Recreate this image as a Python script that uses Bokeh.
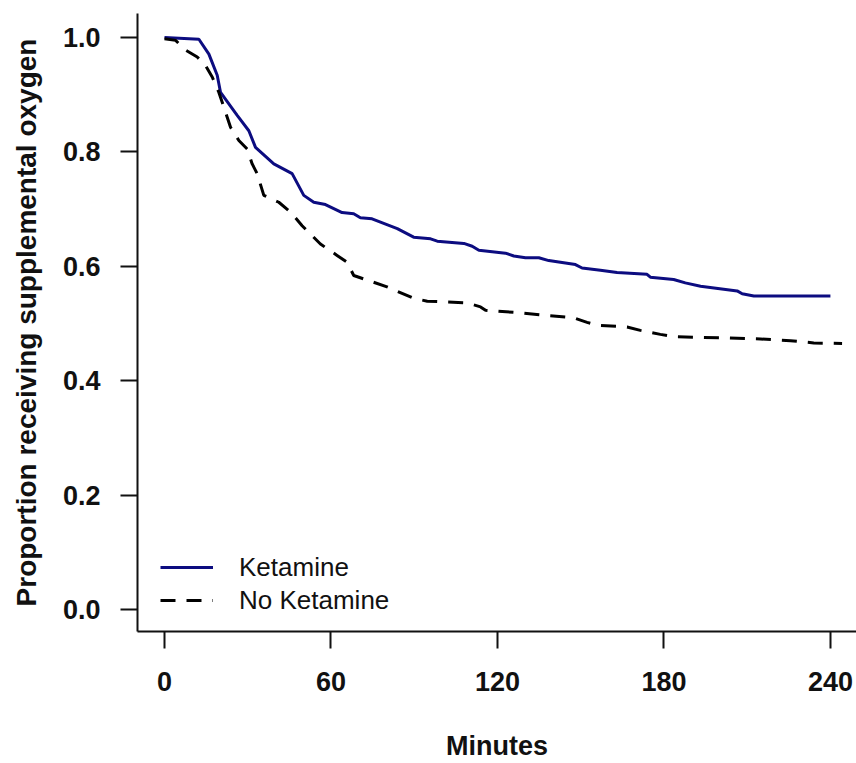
from bokeh.plotting import figure
from bokeh.models import Range1d, FixedTicker, Legend, LegendItem
from bokeh.embed import file_html
from bokeh.resources import INLINE

# Kaplan-Meier style curves
keta_min = [0, 12.4, 16, 19, 20.2, 26.2, 30.4, 32.8, 39.4, 46, 50.2, 53.8, 58, 64,
            68.2, 70.6, 74.8, 83.9, 89.8, 95.9, 98.3, 107.9, 110.9, 113.3, 122.9,
            125.9, 130.1, 134.9, 138.5, 148.1, 150.5, 157.1, 163.1, 173.9, 175.1,
            183.5, 187.7, 193.2, 206.4, 208.2, 212.4, 240]
keta_prop = [1.0, 0.997, 0.971, 0.934, 0.904, 0.864, 0.837, 0.808, 0.779, 0.762,
             0.724, 0.712, 0.708, 0.694, 0.692, 0.685, 0.683, 0.666, 0.651, 0.648,
             0.644, 0.640, 0.635, 0.628, 0.623, 0.618, 0.615, 0.615, 0.610, 0.603,
             0.597, 0.593, 0.589, 0.586, 0.581, 0.577, 0.571, 0.565, 0.557, 0.552,
             0.548, 0.548]

noket_min = [0, 4, 7.6, 11.8, 14.8, 17.2, 19.6, 21.4, 23.8, 26.8, 29.8, 31.6, 33.4,
             35.8, 41.2, 45.4, 49.6, 56.2, 62.2, 65.8, 68.2, 71.8, 80.2, 89.8, 94.7,
             109.1, 113.9, 115.7, 127.7, 137.9, 147.5, 152.3, 155.9, 166.7, 171.5,
             178.7, 183.5, 200.4, 214.8, 225.6, 234, 244.2]
noket_prop = [0.998, 0.995, 0.978, 0.966, 0.951, 0.931, 0.904, 0.878, 0.843, 0.820,
              0.805, 0.779, 0.762, 0.724, 0.712, 0.695, 0.671, 0.639, 0.619, 0.607,
              0.584, 0.578, 0.564, 0.544, 0.539, 0.536, 0.529, 0.523, 0.519, 0.514,
              0.510, 0.502, 0.497, 0.494, 0.488, 0.481, 0.477, 0.475, 0.473, 0.470,
              0.466, 0.465]

x_ticks = [0, 60, 120, 180, 240]
y_ticks = [0.0, 0.2, 0.4, 0.6, 0.8, 1.0]
y_tick_labels = ["0.0", "0.2", "0.4", "0.6", "0.8", "1.0"]
series_names = ["Ketamine", "No Ketamine"]

FONT = "Liberation Sans"

p = figure(width=856, height=763, output_backend="svg", toolbar_location=None,
           x_range=Range1d(-9.73, 249.4), y_range=Range1d(-0.0385, 1.042),
           min_border_left=137, min_border_top=13, min_border_bottom=132,
           min_border_right=0)
p.outline_line_color = None
p.xgrid.visible = False
p.ygrid.visible = False

r1 = p.line(keta_min, keta_prop, line_color="#0c0c80", line_width=3)
r2 = p.line(noket_min, noket_prop, line_color="black", line_width=3,
            line_dash="15 11")

for ax in (p.xaxis[0], p.yaxis[0]):
    ax.axis_line_width = 2
    ax.axis_line_color = "#111111"
    ax.major_tick_line_width = 2
    ax.major_tick_line_color = "#111111"
    ax.major_tick_out = 17
    ax.major_tick_in = 0
    ax.minor_tick_out = 0
    ax.minor_tick_in = 0
    ax.major_label_text_font = FONT
    ax.major_label_text_font_style = "bold"
    ax.major_label_text_font_size = "27px"
    ax.major_label_text_color = "#111111"
    ax.axis_label_text_font = FONT
    ax.axis_label_text_font_style = "bold"
    ax.axis_label_text_font_size = "27px"
    ax.axis_label_text_color = "#111111"

p.yaxis.axis_label_text_font_size = "28px"
p.xaxis.ticker = FixedTicker(ticks=x_ticks)
p.yaxis.ticker = FixedTicker(ticks=y_ticks)
p.yaxis.major_label_overrides = {t: s for t, s in zip(y_ticks, y_tick_labels)}
p.xaxis.major_label_standoff = 23
p.yaxis.major_label_standoff = 20
p.xaxis.axis_label = "Minutes"
p.yaxis.axis_label = "Proportion receiving supplemental oxygen"
p.xaxis.axis_label_standoff = 37
p.yaxis.axis_label_standoff = 18

legend = Legend(items=[LegendItem(label=series_names[0], renderers=[r1]),
                       LegendItem(label=series_names[1], renderers=[r2])],
                location=(23, 15), border_line_color=None,
                background_fill_alpha=0, padding=0, margin=0,
                glyph_width=53, glyph_height=32, label_height=32,
                label_standoff=26, spacing=1,
                label_text_font=FONT, label_text_font_size="26px",
                label_text_color="#111111")
p.add_layout(legend, "center")

open("out.html", "w").write(file_html(p, INLINE))
